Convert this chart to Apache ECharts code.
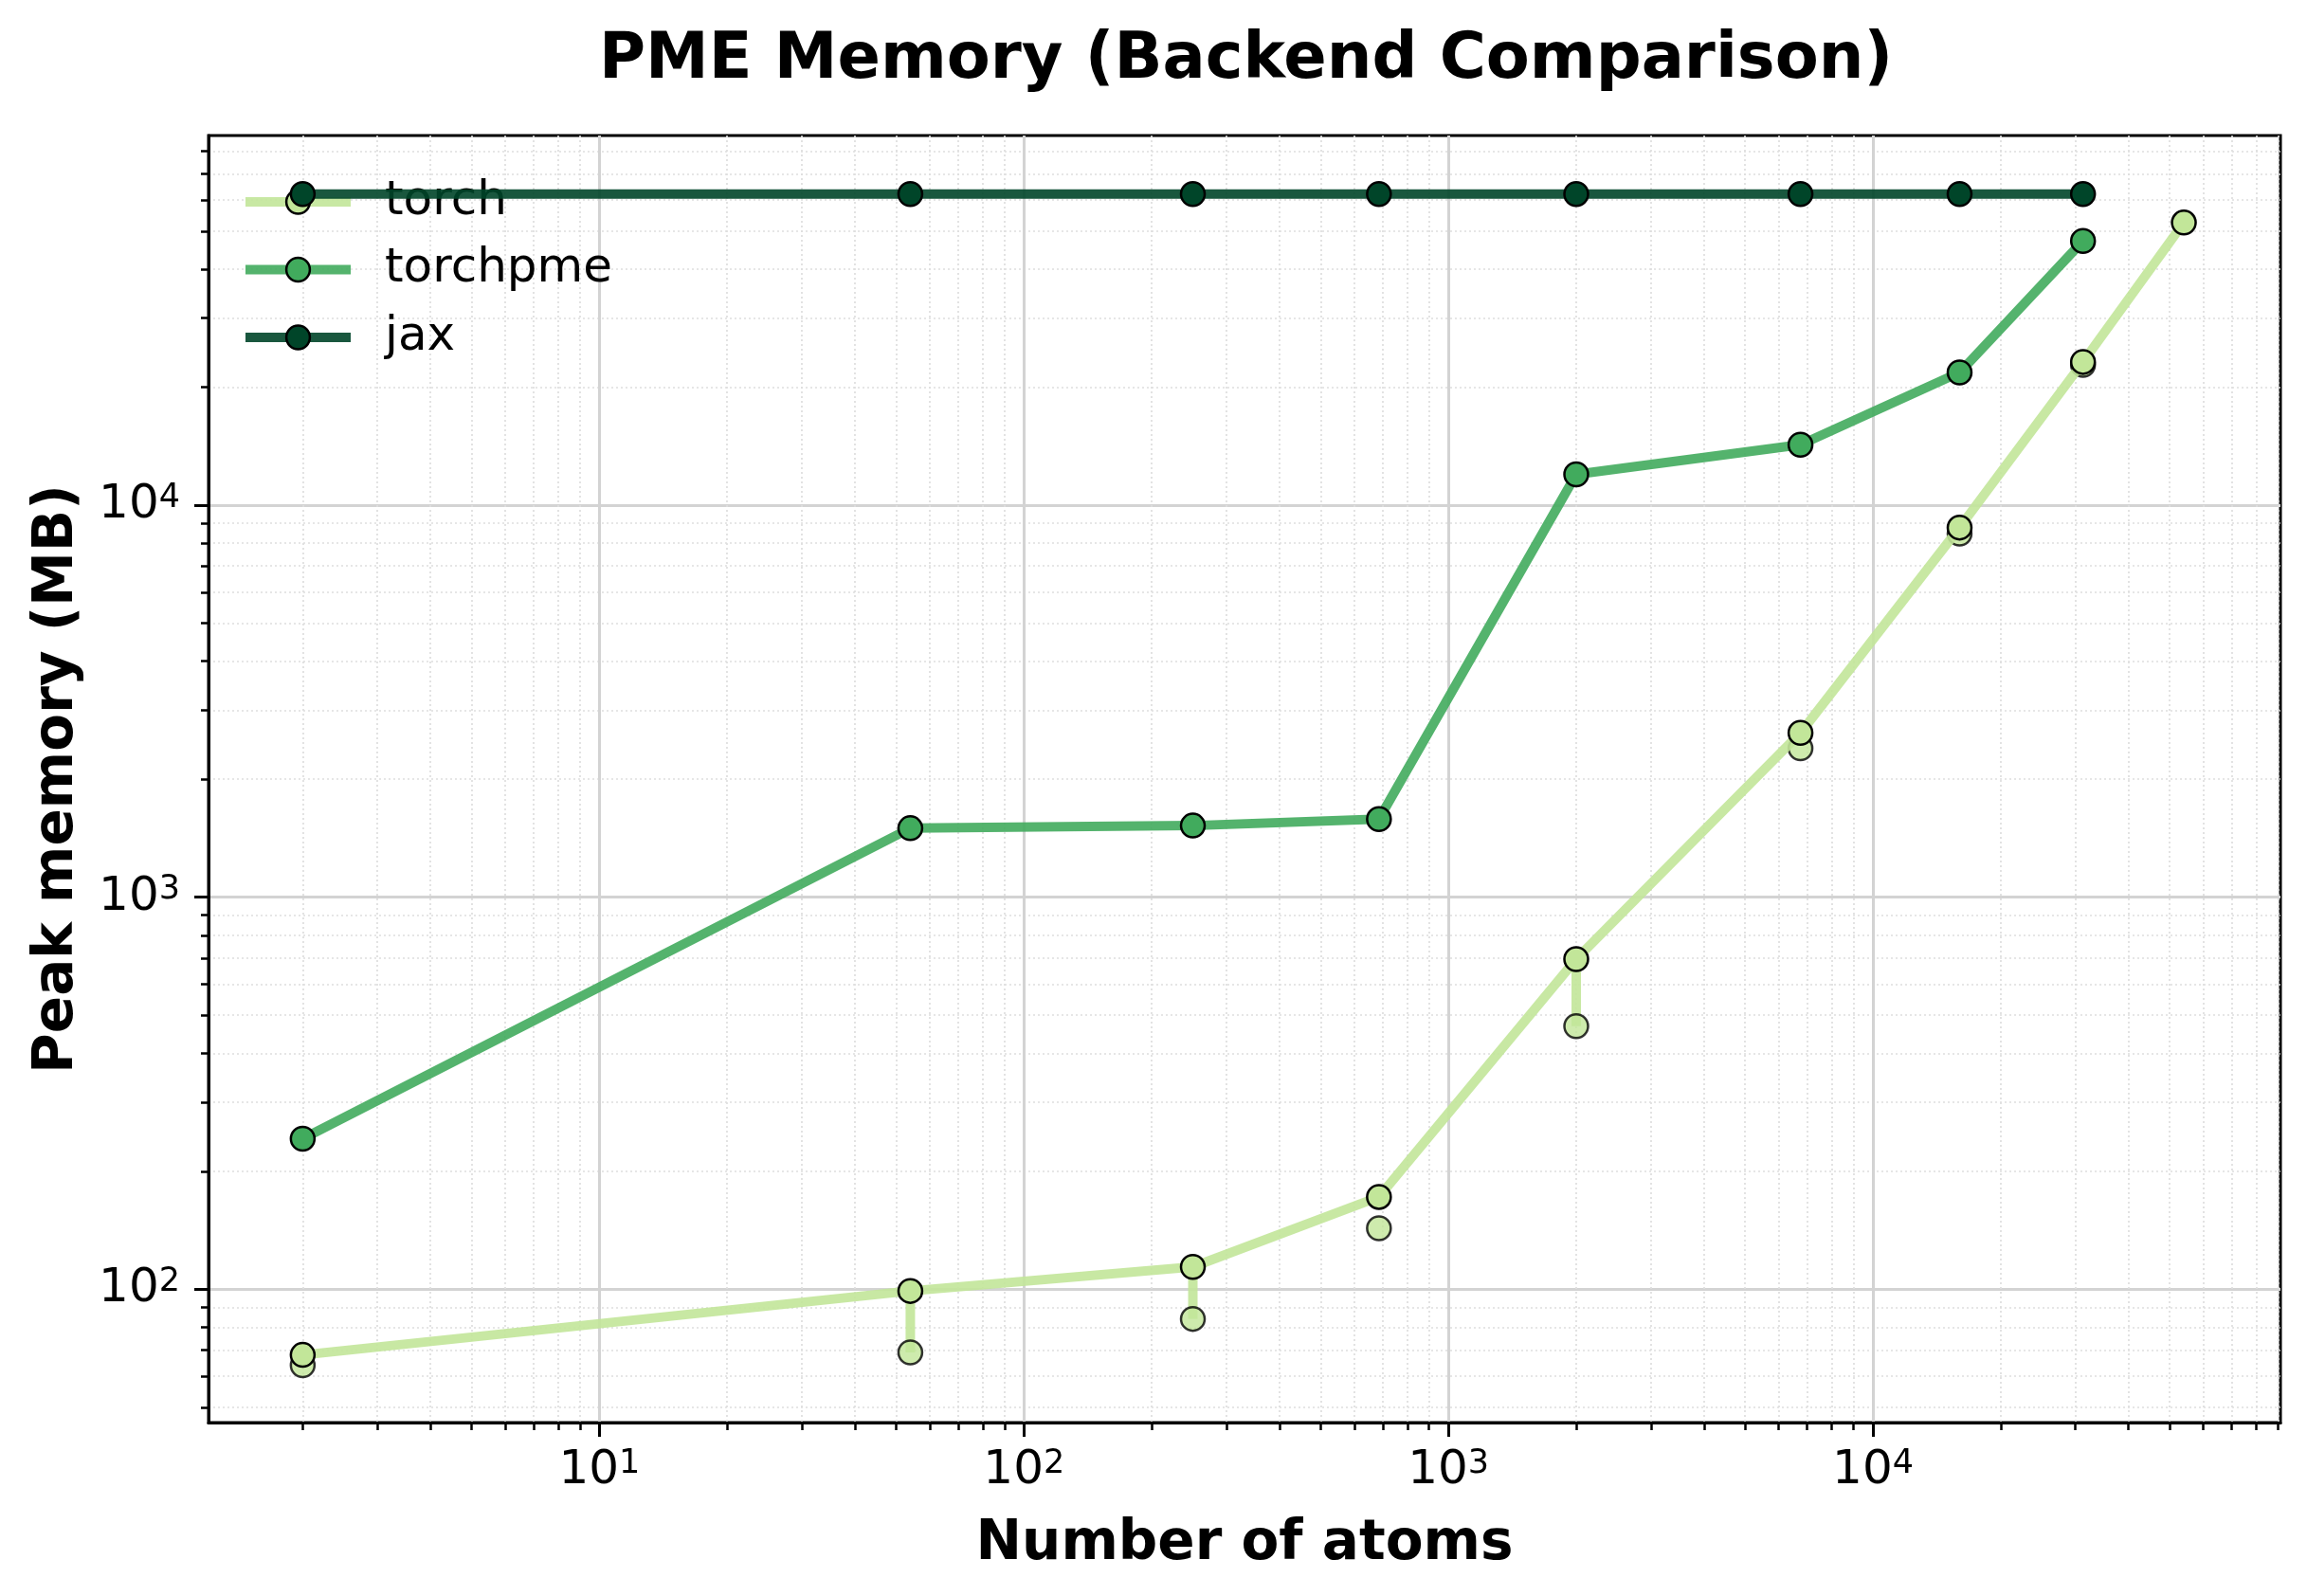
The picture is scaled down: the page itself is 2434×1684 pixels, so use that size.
<!DOCTYPE html>
<html>
<head>
<meta charset="UTF-8">
<title>PME Memory (Backend Comparison)</title>
<script src="https://cdn.jsdelivr.net/npm/echarts@6.0.0/dist/echarts.min.js"></script>
<style>
  html, body { margin: 0; background: #fff; }
  #chart { width: 2434px; height: 1684px; }
</style>
</head>
<body>
<div id="chart"></div>
<script>
// number of atoms (x) for each system size
const natoms = [2, 54, 250, 686, 2000, 6750, 16000, 31250, 54000];
// peak memory in MB
const torchMain = [68, 99, 114, 172, 695, 2625, 8770, 23200, 52600];
const torchRepeat = [64, 69, 84, 143, 469, 2400, 8460, 22800];
// repeat runs that the torch line steps down to
const torchRepeatJoined = [false, true, true, false, true, false, false, false];
const torchpme = [242, 1500, 1523, 1583, 11990, 14270, 21800, 47200];
const jax = [62200, 62200, 62200, 62200, 62200, 62200, 62200, 62200];

const xTicks = [10, 100, 1000, 10000];
const yTicks = [100, 1000, 10000];
const xMin = 1.2, xMax = 91200;
const yMin = 45.7, yMax = 87700;

const FONT = 'DejaVu Sans';
const colors = { torch: '#c2e699', torchpme: '#41ab5d', jax: '#004529' };

// minor tick positions 2..9 x 10^k inside a range
function minorTicks(lo, hi) {
  const out = [];
  for (let e = -1; e <= 6; e++) {
    for (let m = 2; m <= 9; m++) {
      const v = m * Math.pow(10, e);
      if (v > lo && v < hi) out.push(v);
    }
  }
  return out;
}

function powLabel(v) {
  return '{b|10}{s|' + Math.round(Math.log10(v)) + '}';
}
const labelRich = {
  b: { fontSize: 50, fontFamily: FONT, color: '#000' },
  s: { fontSize: 35, fontFamily: FONT, color: '#000', verticalAlign: 'top' }
};

function pairs(xs, ys) {
  return ys.map((y, i) => [xs[i], y]);
}

const baseLine = (name, color, data, z) => ({
  name: name,
  type: 'line',
  data: data,
  z: z,
  symbol: 'circle',
  symbolSize: 25,
  showAllSymbol: true,
  lineStyle: { color: color, width: 10, opacity: 0.9 },
  itemStyle: { color: color, borderColor: '#000', borderWidth: 2.5 },
  emphasis: { disabled: true },
  animation: false
});

const series = [];
// repeat torch runs (markers only)
series.push({
  name: 'torch repeat',
  type: 'scatter',
  data: pairs(natoms, torchRepeat),
  z: 2,
  symbol: 'circle',
  symbolSize: 25,
  itemStyle: { color: colors.torch, borderColor: '#000', borderWidth: 2.5 },
  emphasis: { disabled: true },
  animation: false
});
// vertical steps of the torch line to its repeat runs
torchRepeatJoined.forEach((j, i) => {
  if (!j) return;
  series.push({
    name: 'torch step',
    type: 'line',
    data: [[natoms[i], torchMain[i]], [natoms[i], torchRepeat[i]]],
    z: 2,
    showSymbol: false,
    lineStyle: { color: colors.torch, width: 10, opacity: 0.9 },
    emphasis: { disabled: true },
    animation: false
  });
});
series.push(baseLine('torch', colors.torch, pairs(natoms, torchMain), 3));
series.push(baseLine('torchpme', colors.torchpme, pairs(natoms, torchpme), 4));
series.push(baseLine('jax', colors.jax, pairs(natoms, jax), 5));

const chart = echarts.init(document.getElementById('chart'), null, { renderer: 'canvas', devicePixelRatio: 1 });
chart.setOption({
  backgroundColor: '#fff',
  animation: false,
  title: {
    text: 'PME Memory (Backend Comparison)',
    left: 627,
    top: 26,
    textStyle: { fontFamily: FONT, fontSize: 67, fontWeight: 'bold', color: '#000' }
  },
  legend: {
    data: ['torch', 'torchpme', 'jax'],
    orient: 'vertical',
    left: 249,
    top: 183,
    itemWidth: 111,
    itemHeight: 31,
    itemGap: 21.5,
    lineStyle: { width: 10 },
    itemStyle: { borderColor: '#000', borderWidth: 2.5 },
    textStyle: { fontFamily: FONT, fontSize: 50, color: '#000', padding: [0, 0, 0, 31] }
  },
  grid: {
    left: 220, right: 28, top: 143, bottom: 183,
    show: true, borderColor: '#000', borderWidth: 3, backgroundColor: 'transparent'
  },
  xAxis: [{
    type: 'log', min: xMin, max: xMax, position: 'bottom',
    name: 'Number of atoms', nameLocation: 'middle', nameGap: 100,
    nameTextStyle: { fontFamily: FONT, fontSize: 58, fontWeight: 'bold', color: '#000' },
    axisLine: { show: true, lineStyle: { color: '#000', width: 3 } },
    axisTick: { show: true, customValues: xTicks, length: 15, lineStyle: { color: '#000', width: 3 } },
    axisLabel: { customValues: xTicks, margin: 26, formatter: powLabel, rich: labelRich },
    splitLine: { show: true, lineStyle: { color: '#d3d3d3', width: 3 } },
    minorTick: { show: false }
  }, {
    type: 'log', min: xMin, max: xMax, position: 'bottom',
    axisLine: { show: false },
    axisTick: { show: true, customValues: minorTicks(xMin, xMax), length: 8, lineStyle: { color: '#000', width: 2.5 } },
    axisLabel: { show: false },
    splitLine: { show: true, lineStyle: { color: '#dedede', width: 1.7, type: [2, 3] } }
  }],
  yAxis: [{
    type: 'log', min: yMin, max: yMax, position: 'left',
    name: 'Peak memory (MB)', nameLocation: 'middle', nameGap: 130,
    nameTextStyle: { fontFamily: FONT, fontSize: 58, fontWeight: 'bold', color: '#000' },
    axisLine: { show: true, lineStyle: { color: '#000', width: 3 } },
    axisTick: { show: true, customValues: yTicks, length: 15, lineStyle: { color: '#000', width: 3 } },
    axisLabel: { customValues: yTicks, margin: 30, formatter: powLabel, rich: labelRich },
    splitLine: { show: true, lineStyle: { color: '#d3d3d3', width: 3 } },
    minorTick: { show: false }
  }, {
    type: 'log', min: yMin, max: yMax, position: 'left',
    axisLine: { show: false },
    axisTick: { show: true, customValues: minorTicks(yMin, yMax), length: 8, lineStyle: { color: '#000', width: 2.5 } },
    axisLabel: { show: false },
    splitLine: { show: true, lineStyle: { color: '#dedede', width: 1.7, type: [2, 3] } }
  }],
  series: series
});
</script>
</body>
</html>
